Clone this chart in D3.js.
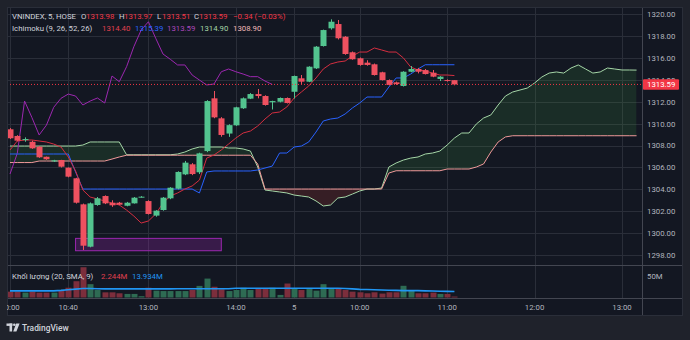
<!DOCTYPE html>
<html><head><meta charset="utf-8">
<script src="https://cdn.jsdelivr.net/npm/d3@7"></script>
<style>
html,body{margin:0;padding:0;background:#1f222b;}
svg{display:block;font-family:Roboto,"Noto Sans",sans-serif;}
</style></head><body>
<svg id="chart" width="690" height="340"></svg>
<script>
// ---------- DATA ----------
const openP = [1309.49,1308.88,1308.50,1308.35,1307.90,1306.98,1306.55,1306.68,1305.98,1305.01,
 1302.63,1298.76,1302.57,1303.39,1302.78,1302.78,1302.50,1302.72,1303.30,1302.93,
 1301.60,1302.11,1303.18,1304.06,1305.37,1306.29,1305.56,1307.50,1312.32,1310.49,
 1309.10,1309.85,1311.41,1312.29,1312.71,1312.53,1311.96,1312.01,1312.35,1312.92,
 1314.15,1313.84,1315.06,1317.10,1318.72,1319.11,1317.95,1316.53,1315.98,1315.58,
 1315.43,1314.70,1313.99,1313.78,1313.45,1314.75,1315.00,1314.90,1314.66,1314.09,
 1313.99,1313.98];
const highP = [1309.60,1308.95,1308.75,1308.45,1307.95,1307.00,1306.70,1306.70,1306.00,1305.05,
 1302.70,1302.80,1303.30,1303.45,1303.00,1302.85,1302.85,1303.30,1303.38,1303.00,
 1302.10,1303.30,1304.20,1305.65,1306.60,1306.40,1307.35,1312.15,1312.99,1310.60,
 1309.95,1311.55,1312.40,1312.80,1313.17,1312.60,1312.10,1312.40,1312.40,1314.40,
 1314.45,1315.25,1317.10,1318.60,1319.54,1319.48,1318.00,1316.60,1316.05,1315.80,
 1315.50,1314.75,1314.05,1313.85,1314.80,1315.27,1315.10,1315.00,1314.91,1314.35,
 1314.05,1313.98];
const lowP = [1308.60,1308.40,1308.35,1307.70,1306.88,1306.70,1306.50,1306.00,1305.10,1302.70,
 1298.46,1298.70,1302.50,1302.65,1302.40,1302.55,1302.45,1302.70,1303.25,1301.70,
 1301.50,1302.05,1303.10,1304.00,1305.30,1305.30,1305.40,1307.40,1310.50,1308.81,
 1308.80,1309.80,1311.35,1312.25,1312.32,1311.65,1311.30,1311.95,1311.85,1312.30,
 1313.63,1313.80,1315.00,1317.05,1318.60,1317.70,1316.30,1315.85,1315.30,1315.30,
 1314.40,1313.95,1313.50,1313.55,1313.40,1314.70,1314.60,1314.50,1314.25,1313.90,
 1313.85,1313.51];
const closeP = [1308.67,1308.45,1308.60,1307.75,1306.93,1306.75,1306.65,1306.07,1305.16,1302.78,
 1298.85,1302.72,1303.18,1302.72,1302.54,1302.60,1302.78,1303.24,1303.33,1301.75,
 1302.05,1303.24,1304.15,1305.59,1306.44,1305.40,1307.29,1312.07,1310.58,1308.97,
 1309.87,1311.50,1312.32,1312.71,1312.53,1311.71,1312.07,1312.35,1311.89,1314.36,
 1313.84,1315.21,1317.04,1318.56,1319.32,1317.81,1316.37,1315.89,1315.37,1315.37,
 1314.45,1313.99,1313.54,1313.63,1314.75,1315.00,1314.75,1314.54,1314.30,1314.30,
 1313.90,1313.59];
const volumeM = [13.6,13.6,11.4,13.6,11.4,11.4,11.4,17.4,22.7,37.9,
 70.4,31.0,17.4,12.0,12.0,9.8,8.3,8.3,3.0,22.7,
 15.9,15.0,15.0,15.0,15.0,17.4,27.0,44.0,25.0,19.0,
 15.0,17.4,22.7,17.4,21.2,19.7,22.7,6.0,32.5,21.2,
 17.4,19.7,15.9,31.0,21.2,21.2,17.4,13.6,12.1,9.8,
 12.1,9.1,12.1,12.1,27.2,17.4,9.8,9.8,11.4,8.3,
 8.3,2.244];
const volumeSMA = [15.5,15.5,15.5,15.5,15.5,15.5,15.5,16.5,18.0,19.5,
 21.0,21.0,20.5,20.0,20.0,20.0,20.0,20.0,20.0,20.0,
 20.0,20.0,20.0,20.5,20.5,20.5,20.5,20.5,20.5,20.5,
 20.5,21.5,21.5,21.5,21.5,21.5,21.5,21.5,21.5,21.5,
 21.5,21.5,21.5,21.5,21.5,21.5,21.0,20.0,19.0,18.5,
 18.0,17.5,17.0,16.5,16.0,16.0,16.0,15.5,15.0,14.5,
 14.2,13.934];
const conversionLine = [1307.60,1308.42,1308.51,1308.51,1308.42,1308.33,1308.14,1307.87,1306.96,1305.68,
 1303.94,1303.30,1303.12,1302.94,1302.75,1302.57,1302.11,1301.56,1300.92,1301.11,
 1301.75,1302.75,1303.39,1303.67,1304.03,1304.31,1304.85,1306.86,1307.14,1307.60,
 1308.14,1308.69,1309.15,1309.33,1309.79,1310.43,1310.98,1311.07,1311.53,1312.35,
 1312.90,1313.45,1314.18,1315.00,1315.46,1315.64,1315.73,1316.19,1316.55,1316.55,
 1316.92,1316.74,1316.55,1316.55,1316.01,1315.18,1314.91,1314.82,1314.63,1314.45,
 1314.45,1314.40];
const baseLine = [1307.23,1307.23,1307.23,1307.23,1307.23,1307.23,1307.23,1307.23,1307.23,1305.59,
 1304.03,1304.03,1304.03,1304.03,1304.03,1304.03,1304.03,1304.03,1304.03,1304.03,
 1304.03,1304.03,1304.03,1304.03,1304.03,1304.03,1303.67,1305.59,1305.68,1305.68,
 1305.68,1305.68,1305.68,1305.68,1305.77,1305.95,1306.13,1307.32,1307.32,1307.87,
 1307.96,1308.33,1309.24,1310.25,1310.43,1310.52,1310.89,1311.44,1311.89,1312.44,
 1312.44,1312.44,1313.35,1314.18,1314.18,1314.54,1315.00,1315.39,1315.39,1315.39,
 1315.39,1315.39];
const leadingSpanA = [1307.96,1307.96,1307.96,1307.96,1307.96,1307.96,1307.96,1307.96,1307.96,1307.96,
 1308.05,1308.33,1308.33,1308.33,1308.33,1308.33,1307.16,1307.16,1307.16,1307.16,
 1307.16,1307.16,1307.16,1307.23,1307.41,1307.69,1307.87,1307.87,1307.87,1307.87,
 1307.78,1307.78,1307.69,1307.50,1306.04,1303.94,1303.85,1303.76,1303.67,1303.48,
 1303.39,1303.30,1302.94,1302.48,1302.57,1303.21,1303.30,1303.57,1303.85,1304.03,
 1304.03,1304.12,1306.04,1306.41,1306.68,1306.86,1306.96,1307.23,1307.32,1307.50,
 1308.05,1308.69,1309.15,1309.15,1309.97,1310.52,1310.80,1311.71,1312.53,1312.90,
 1313.08,1313.26,1313.72,1314.27,1314.63,1314.73,1314.63,1315.09,1315.37,1315.00,
 1314.63,1314.73,1315.09,1315.00,1314.91,1314.91,1314.90];
const leadingSpanB = [1306.45,1306.45,1306.45,1306.45,1306.59,1306.59,1306.59,1306.59,1306.59,1306.59,
 1306.59,1306.59,1306.59,1306.59,1306.77,1306.96,1307.12,1307.12,1307.12,1307.12,
 1307.12,1307.12,1307.12,1307.12,1307.12,1307.12,1307.12,1307.12,1307.12,1307.12,
 1307.12,1307.12,1307.12,1307.12,1306.32,1304.03,1304.03,1304.03,1304.03,1304.03,
 1304.03,1304.03,1304.03,1304.03,1304.03,1304.03,1304.03,1304.03,1304.03,1304.03,
 1304.03,1304.03,1305.49,1305.70,1305.70,1305.70,1305.70,1305.70,1305.70,1305.70,
 1305.86,1305.86,1305.86,1305.86,1306.04,1306.32,1307.41,1308.33,1308.79,1308.90,
 1308.90,1308.90,1308.90,1308.90,1308.90,1308.90,1308.90,1308.90,1308.90,1308.90,
 1308.90,1308.90,1308.90,1308.90,1308.90,1308.90,1308.90];
const laggingShift = 25;                 // lagging span = close plotted 25 bars back
const zoneBars = [9, 29];                // purple rectangle drawing (bar range)
const zonePrices = [1299.52, 1298.39];   // purple rectangle (top, bottom price)
const priceTicks = [1298,1300,1302,1304,1306,1308,1310,1312,1314,1316,1318,1320];
const volumeTicks = [50];
const volumeTickLabels = ["50M"];
const timeTickBars = [0, 8, 19, 31, 39, 48, 60, 72, 84];
const timeTickLabels = ["10:00","10:40","13:00","14:00","5","10:00","11:00","12:00","13:00"];

// ---------- LAYOUT ----------
const W = 690, H = 340;
const L = 7, R = 642, AXR = 683, T = 7, PB = 265, VB = 298, TB = 316;
const UP = "#53c48f", DOWN = "#ef5160";
const svg = d3.select("#chart");
svg.append("rect").attr("width", W).attr("height", H).attr("fill", "#1f222b");
svg.append("rect").attr("x", L).attr("y", T).attr("width", AXR - L).attr("height", TB - T).attr("fill", "#131722");

const x = d3.scaleLinear().domain([0, 84]).range([10, 622]);
const y = d3.scaleLinear().domain([1298, 1320]).range([255, 14.3]);
const yv = d3.scaleLinear().domain([0, 50]).range([297.5, 276]);

const defs = svg.append("defs");
defs.append("clipPath").attr("id", "cp").append("rect").attr("x", L).attr("y", T).attr("width", R - L).attr("height", PB - T);
defs.append("clipPath").attr("id", "cv").append("rect").attr("x", L).attr("y", PB).attr("width", R - L).attr("height", VB - PB);
defs.append("clipPath").attr("id", "ct").append("rect").attr("x", L).attr("y", VB).attr("width", R - L).attr("height", TB - VB);

const spanIdx = d3.range(leadingSpanA.length);
defs.append("clipPath").attr("id", "above").append("path")
  .attr("d", d3.area().x(i => x(i)).y0(0).y1(i => y(leadingSpanB[i]))(spanIdx));
defs.append("clipPath").attr("id", "below").append("path")
  .attr("d", d3.area().x(i => x(i)).y0(i => y(leadingSpanB[i])).y1(H)(spanIdx));

// grid
const grid = svg.append("g").attr("stroke", "#2a2e39").attr("stroke-width", 1);
grid.selectAll("line.h").data(priceTicks).join("line")
  .attr("x1", L).attr("x2", R).attr("y1", d => Math.round(y(d)) + 0.5).attr("y2", d => Math.round(y(d)) + 0.5);
grid.selectAll("line.v").data(timeTickBars).join("line")
  .attr("x1", d => Math.round(x(d)) + 0.5).attr("x2", d => Math.round(x(d)) + 0.5).attr("y1", T).attr("y2", VB);

// price pane
const pane = svg.append("g").attr("clip-path", "url(#cp)");
const cloud = d3.area().x(i => x(i)).y0(i => y(leadingSpanA[i])).y1(i => y(leadingSpanB[i]));
pane.append("g").attr("clip-path", "url(#above)").append("path").attr("d", cloud(spanIdx)).attr("fill", "rgba(67,160,71,0.16)");
pane.append("g").attr("clip-path", "url(#below)").append("path").attr("d", cloud(spanIdx)).attr("fill", "rgba(244,67,54,0.16)");

const line = d3.line().x((d, i) => x(i)).y(d => y(d));
pane.append("path").attr("d", line(leadingSpanA)).attr("fill", "none").attr("stroke", "#a5d6a7").attr("stroke-width", 1);
pane.append("path").attr("d", line(leadingSpanB)).attr("fill", "none").attr("stroke", "#ef9a9a").attr("stroke-width", 1);

// purple zone
pane.append("rect")
  .attr("x", x(zoneBars[0])).attr("width", x(zoneBars[1]) - x(zoneBars[0]))
  .attr("y", y(zonePrices[0])).attr("height", y(zonePrices[1]) - y(zonePrices[0]))
  .attr("fill", "rgba(156,39,176,0.28)").attr("stroke", "#9c27b0").attr("stroke-width", 1);

const lagging = closeP.slice(laggingShift);
pane.append("path").attr("d", line(lagging)).attr("fill", "none").attr("stroke", "#9c27b0").attr("stroke-width", 1);
pane.append("path").attr("d", line(baseLine)).attr("fill", "none").attr("stroke", "#2962ff").attr("stroke-width", 1);
pane.append("path").attr("d", line(conversionLine)).attr("fill", "none").attr("stroke", "#d42e40").attr("stroke-width", 1);

// last price dotted line
const last = closeP[closeP.length - 1];
svg.append("line").attr("x1", L).attr("x2", R).attr("y1", y(last)).attr("y2", y(last))
  .attr("stroke", "#f23645").attr("stroke-width", 1).attr("stroke-dasharray", "1,2");

// candles
const cg = pane.append("g");
const bars = d3.range(closeP.length);
cg.selectAll("line.w").data(bars).join("line")
  .attr("x1", i => Math.round(x(i)) + 0.5).attr("x2", i => Math.round(x(i)) + 0.5)
  .attr("y1", i => y(highP[i])).attr("y2", i => y(lowP[i]))
  .attr("stroke", i => closeP[i] >= openP[i] ? UP : DOWN).attr("stroke-width", 1);
cg.selectAll("rect").data(bars).join("rect")
  .attr("x", i => Math.round(x(i)) - 2.5).attr("width", 6)
  .attr("y", i => y(Math.max(openP[i], closeP[i])))
  .attr("height", i => Math.max(1, Math.abs(y(openP[i]) - y(closeP[i]))))
  .attr("fill", i => closeP[i] >= openP[i] ? UP : DOWN);

// volume pane
const vg = svg.append("g").attr("clip-path", "url(#cv)");
vg.selectAll("rect").data(bars).join("rect")
  .attr("x", i => Math.round(x(i)) - 2.5).attr("width", 6)
  .attr("y", i => yv(volumeM[i])).attr("height", i => yv(0) - yv(volumeM[i]))
  .attr("fill", i => closeP[i] >= openP[i] ? "#2e6b53" : "#7c2e3c");
vg.append("path").attr("d", d3.line().x((d, i) => x(i)).y(d => yv(d))(volumeSMA))
  .attr("fill", "none").attr("stroke", "#2196f3").attr("stroke-width", 1.6);

// frame lines
const fr = svg.append("g").attr("stroke", "#434651").attr("stroke-width", 1);
fr.append("line").attr("x1", R + 0.5).attr("x2", R + 0.5).attr("y1", T).attr("y2", TB);
fr.append("line").attr("x1", L).attr("x2", AXR).attr("y1", PB + 0.5).attr("y2", PB + 0.5);
fr.append("line").attr("x1", L).attr("x2", AXR).attr("y1", VB + 0.5).attr("y2", VB + 0.5);
svg.append("rect").attr("x", L + 0.5).attr("y", T + 0.5).attr("width", AXR - L - 1).attr("height", TB - T - 1)
  .attr("fill", "none").attr("stroke", "#2a2e39");

// price axis
const FS = 7.8, TXT = "#b2b5be";
svg.append("g").selectAll("text").data(priceTicks).join("text")
  .attr("x", 647).attr("y", d => y(d) + 2.8).attr("font-size", FS).attr("fill", TXT)
  .text(d => d3.format(".2f")(d));
svg.append("g").selectAll("text").data(volumeTicks).join("text")
  .attr("x", 647).attr("y", d => yv(d) + 2.8).attr("font-size", FS).attr("fill", TXT)
  .text((d, i) => volumeTickLabels[i]);
svg.append("rect").attr("x", 643).attr("y", y(last) - 5.2).attr("width", 36).attr("height", 10.4).attr("rx", 1)
  .attr("fill", "#f23645");
svg.append("text").attr("x", 647).attr("y", y(last) + 2.8).attr("font-size", FS).attr("fill", "#ffffff")
  .text(d3.format(".2f")(last));

// time axis
svg.append("g").attr("clip-path", "url(#ct)").selectAll("text").data(timeTickBars).join("text")
  .attr("x", d => x(d)).attr("y", 309.6).attr("text-anchor", "middle").attr("font-size", FS).attr("fill", TXT)
  .text((d, i) => timeTickLabels[i]);

// legends
function legend(yc, items) {
  const t = svg.append("text").attr("y", yc + 2.8).attr("font-size", FS);
  items.forEach(([tx, xx, col]) => t.append("tspan").attr("x", xx).attr("fill", col).text(tx));
}
const RED = "#f23645";
legend(16, [["VNINDEX, 5, HOSE", 12, "#d1d4dc"], ["O", 81, "#d1d4dc"], ["1313.98", 86, RED],
  ["H", 119, "#d1d4dc"], ["1313.97", 124, RED], ["L", 157, "#d1d4dc"], ["1313.51", 162, RED],
  ["C", 194, "#d1d4dc"], ["1313.59", 199, RED], ["−0.34 (−0.03%)", 233, RED]]);
legend(27.7, [["Ichimoku (9, 26, 52, 26)", 12, "#d1d4dc"], ["1314.40", 102, "#e0404f"],
  ["1315.39", 135, "#2962ff"], ["1313.59", 167, "#ab47bc"], ["1314.90", 200, "#a5d6a7"], ["1308.90", 233, "#f2b8b8"]]);
legend(276, [["Khối lượng (20, SMA, 9)", 12, "#d1d4dc"], ["2.244M", 101, "#e0404f"], ["13.934M", 132, "#2196f3"]]);

// TradingView logo
const lg = svg.append("g").attr("fill", "#d1d4dc");
lg.append("rect").attr("x", 6.5).attr("y", 323.5).attr("width", 6).attr("height", 2.4);
lg.append("rect").attr("x", 9.5).attr("y", 323.5).attr("width", 2.6).attr("height", 8);
lg.append("circle").attr("cx", 14.3).attr("cy", 324.8).attr("r", 1.3);
lg.append("path").attr("d", "M16.2,323.5 L19.6,323.5 L16.4,331.5 L13.2,331.5 Z");
svg.append("text").attr("x", 22).attr("y", 331).attr("font-size", 8.4).attr("font-weight", 500)
  .attr("fill", "#d1d4dc").text("TradingView");
</script></body></html>
